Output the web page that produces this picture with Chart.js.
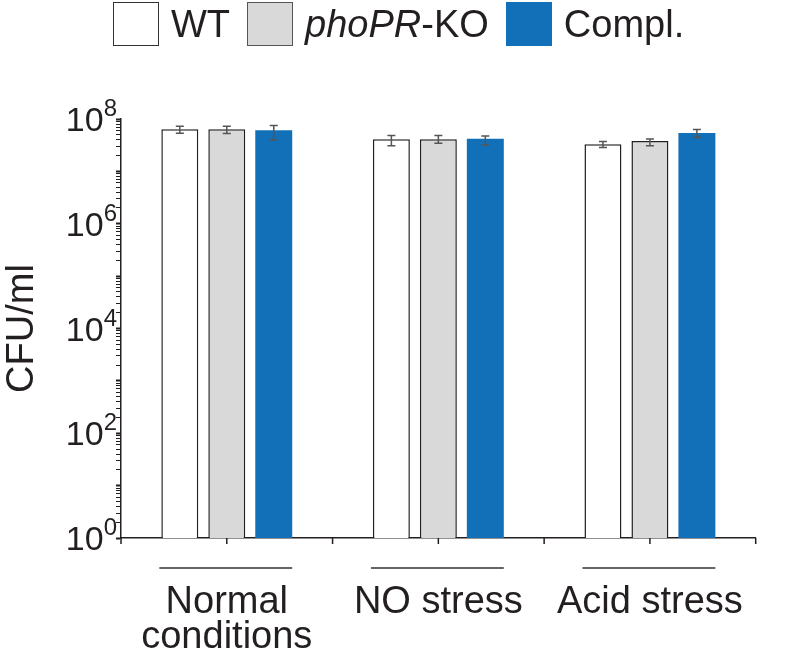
<!DOCTYPE html>
<html>
<head>
<meta charset="utf-8">
<script src="https://cdn.jsdelivr.net/npm/chart.js@4.4.1/dist/chart.umd.min.js"></script>
<style>
  html, body { margin: 0; padding: 0; background: #fff; }
  #wrap { position: relative; width: 787px; height: 657px; }
  #legend {
    position: absolute; left: 113px; top: 2px;
    display: flex; align-items: center;
    font-family: 'Liberation Sans', Arial, sans-serif; font-size: 38px; color: #231f20;
  }
  #legend .item { display: flex; align-items: center; margin-right: 17px; }
  #legend .box { width: 46px; height: 44px; box-sizing: border-box; margin-right: 12px; }
</style>
</head>
<body>
<div id="wrap">
  <canvas id="chart"></canvas>
  <div id="legend"></div>
</div>
<script>
// data
const categories = [['Normal', 'conditions'], 'NO stress', 'Acid stress'];
const seriesNames = ['WT', '<i>phoPR</i>-KO', 'Compl.'];
const wtValues = [6.4e7, 4.1e7, 3.3e7];
const koValues = [6.4e7, 4.1e7, 3.8e7];
const complValues = [6.1e7, 4.2e7, 5.4e7];
const wtErrHigh = [7.3e7, 4.85e7, 3.7e7];
const wtErrLow = [5.35e7, 3.1e7, 2.85e7];
const koErrHigh = [7.3e7, 4.85e7, 4.15e7];
const koErrLow = [5.3e7, 3.45e7, 3.1e7];
const complErrHigh = [7.5e7, 4.75e7, 6.3e7];
const complErrLow = [4.0e7, 3.2e7, 4.45e7];
const yTickExponents = [0, 2, 4, 6, 8];

const fillColors = ['#ffffff', '#d9d9d9', '#1270b9'];
const borderColors = ['#231f20', '#231f20', '#1270b9'];
const errHigh = [wtErrHigh, koErrHigh, complErrHigh];
const errLow = [wtErrLow, koErrLow, complErrLow];
const FONT = "'Liberation Sans', Arial, sans-serif";
const INK = '#231f20';

// html legend (mixed italic text)
const legendEl = document.getElementById('legend');
seriesNames.forEach((name, i) => {
    const item = document.createElement('div');
    item.className = 'item';
    const box = document.createElement('span');
    box.className = 'box';
    box.style.background = fillColors[i];
    box.style.border = i === 2 ? 'none' : '1.5px solid ' + (i === 0 ? '#333' : '#555');
    item.appendChild(box);
    const label = document.createElement('span');
    label.innerHTML = name;
    item.appendChild(label);
    legendEl.appendChild(item);
});

const errorBars = {
    id: 'errorBars',
    afterDatasetsDraw(chart) {
        const ctx = chart.ctx;
        const y = chart.scales.y;
        ctx.save();
        ctx.strokeStyle = '#555';
        ctx.lineWidth = 1.5;
        chart.data.datasets.forEach((ds, d) => {
            chart.getDatasetMeta(d).data.forEach((bar, i) => {
                const top = y.getPixelForValue(errHigh[d][i]);
                const bot = y.getPixelForValue(errLow[d][i]);
                ctx.beginPath();
                ctx.moveTo(bar.x, top); ctx.lineTo(bar.x, bot);
                ctx.moveTo(bar.x - 4, top); ctx.lineTo(bar.x + 4, top);
                ctx.moveTo(bar.x - 4, bot); ctx.lineTo(bar.x + 4, bot);
                ctx.stroke();
            });
        });
        ctx.restore();
    }
};

const axisDecor = {
    id: 'axisDecor',
    afterDraw(chart) {
        const ctx = chart.ctx;
        const x = chart.scales.x;
        const y = chart.scales.y;
        ctx.save();
        // y tick labels with superscripts
        ctx.fillStyle = INK;
        ctx.textBaseline = 'alphabetic';
        yTickExponents.forEach(e => {
            const py = y.getPixelForValue(Math.pow(10, e));
            ctx.font = '24px ' + FONT;
            ctx.textAlign = 'right';
            const supW = ctx.measureText(String(e)).width;
            ctx.fillText(String(e), 117, py - 3);
            ctx.font = '34px ' + FONT;
            ctx.fillText('10', 117 - supW, py + 12);
        });
        // x ticks at category edges and centers
        ctx.strokeStyle = INK;
        ctx.lineWidth = 1.5;
        const half = (x.getPixelForValue(1) - x.getPixelForValue(0)) / 2;
        ctx.beginPath();
        categories.forEach((c, i) => {
            const cx = x.getPixelForValue(i);
            [cx - half, cx].forEach(px => {
                ctx.moveTo(px, x.top); ctx.lineTo(px, x.top + 6);
            });
            if (i === categories.length - 1) {
                ctx.moveTo(cx + half, x.top); ctx.lineTo(cx + half, x.top + 6);
            }
        });
        ctx.stroke();
        // group underlines
        const first = chart.getDatasetMeta(0).data;
        const last = chart.getDatasetMeta(2).data;
        ctx.strokeStyle = '#333';
        ctx.beginPath();
        first.forEach((bar, i) => {
            const l = bar.x - bar.width / 2 - 2;
            const r = last[i].x + last[i].width / 2;
            ctx.moveTo(l, x.top + 30); ctx.lineTo(r, x.top + 30);
        });
        ctx.stroke();
        ctx.restore();
    }
};

new Chart(document.getElementById('chart'), {
    type: 'bar',
    data: {
        labels: categories,
        datasets: [wtValues, koValues, complValues].map((vals, i) => ({
            label: seriesNames[i],
            data: vals,
            backgroundColor: fillColors[i],
            borderColor: borderColors[i],
            borderWidth: i === 2 ? 0 : 1.5,
            categoryPercentage: 0.666,
            barPercentage: 0.787
        }))
    },
    options: {
        responsive: true,
        maintainAspectRatio: false,
        animation: false,
        layout: { padding: { top: 119, right: 31, left: 0, bottom: 0 } },
        plugins: {
            legend: { display: false },
            tooltip: { enabled: false }
        },
        scales: {
            x: {
                grid: { display: false },
                border: { color: INK, width: 1.5 },
                ticks: {
                    color: INK,
                    padding: 39,
                    font: { family: FONT, size: 38, lineHeight: 0.93 }
                },
                afterFit: scale => { scale.height = 119; }
            },
            y: {
                type: 'logarithmic',
                min: 1,
                max: 1e8,
                border: { color: INK, width: 1.5 },
                grid: {
                    drawOnChartArea: false,
                    drawTicks: true,
                    tickLength: 5,
                    tickColor: INK,
                    tickWidth: ctx => (Number.isInteger(Math.log10(ctx.tick.value)) ? 2 : 1)
                },
                ticks: { display: false },
                afterBuildTicks: scale => {
                    const list = [];
                    for (let e = 0; e < 8; e++) {
                        for (let m = 1; m <= 9; m++) list.push({ value: m * Math.pow(10, e) });
                    }
                    list.push({ value: 1e8 });
                    scale.ticks = list;
                },
                title: {
                    display: true,
                    text: 'CFU/ml',
                    color: INK,
                    padding: 0,
                    font: { family: FONT, size: 38 }
                },
                afterFit: scale => { scale.width = 121; }
            }
        }
    },
    plugins: [errorBars, axisDecor]
});
</script>
</body>
</html>
